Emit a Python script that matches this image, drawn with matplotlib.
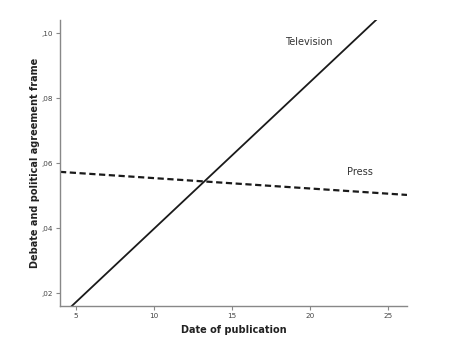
import matplotlib
matplotlib.use("Agg")
import matplotlib.pyplot as plt
from matplotlib.ticker import FuncFormatter

# fitted lines (endpoints at the axis limits)
dates = [4.0, 26.2]
television = [0.0126, 0.1130]
press = [0.0573, 0.0502]

x_ticks = [5, 10, 15, 20, 25]
y_ticks = [0.02, 0.04, 0.06, 0.08, 0.10]

fig = plt.figure(figsize=(4.67, 3.47), dpi=100)
ax = fig.add_axes([0.1285, 0.118, 0.743, 0.824])

ax.plot(dates, television, '-', c='#1a1a1a', lw=1.3)
ax.plot(dates, press, '--', c='#1a1a1a', lw=1.6, dashes=(2.8, 1.6))

ax.text(19.9, 0.0972, 'Television', fontsize=7, color='#333333', ha='center', va='center')
ax.text(23.2, 0.0573, 'Press', fontsize=7, color='#333333', ha='center', va='center')

ax.set_xlim(4, 26.2)
ax.set_ylim(0.016, 0.104)
ax.set_xticks(x_ticks)
ax.set_yticks(y_ticks)
ax.yaxis.set_major_formatter(FuncFormatter(lambda v, p: ('%.2f' % v).lstrip('0').replace('.', ',')))

for side in ['top', 'right']:
    ax.spines[side].set_visible(False)
for side in ['left', 'bottom']:
    ax.spines[side].set_color('#888888')
    ax.spines[side].set_linewidth(1.0)
ax.tick_params(axis='both', colors='#888888', labelcolor='#444444', labelsize=5.2, length=3, width=0.8, pad=2)

ax.set_xlabel('Date of publication', fontsize=7, fontweight='bold', color='#222222', labelpad=4)
ax.set_ylabel('Debate and political agreement frame', fontsize=7, fontweight='bold', color='#222222', labelpad=1)

fig.savefig('out.png', dpi=100)
